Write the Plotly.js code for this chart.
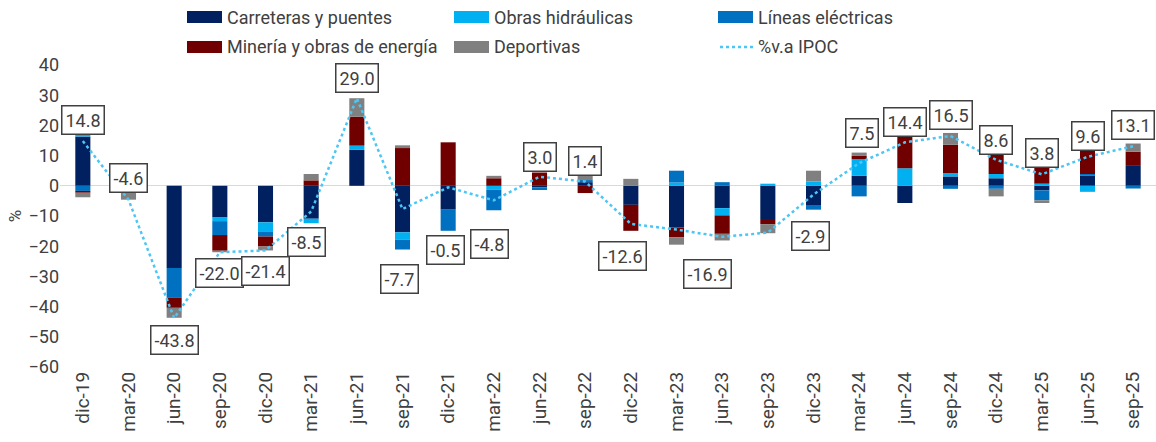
<!DOCTYPE html>
<html>
<head>
<meta charset="utf-8">
<script src="https://cdn.plot.ly/plotly-3.0.1.min.js"></script>
<style>
  html, body { margin: 0; padding: 0; background: #fff; }
  #plot { width: 1156px; height: 442px; }
</style>
</head>
<body>
<div id="plot"></div>
<script>
// trimestres
const quarters = ['dic-19', 'mar-20', 'jun-20', 'sep-20', 'dic-20', 'mar-21', 'jun-21', 'sep-21',
    'dic-21', 'mar-22', 'jun-22', 'sep-22', 'dic-22', 'mar-23', 'jun-23', 'sep-23',
    'dic-23', 'mar-24', 'jun-24', 'sep-24', 'dic-24', 'mar-25', 'jun-25', 'sep-25'];

// aportes por tipo de obra (pp)
const carreteras = [16.3, -1.4, -27.2, -10.5, -12.1, -10.9, 11.9, -15.4, -7.9, 0, -0.5, 1.2,
    -6.3, -13.8, -7.4, -11.0, -6.6, 3.3, -5.7, 3.1, 2.5, -1.5, 3.3, 6.6];
const obrasHidraulicas = [2.3, 0, 0, -1.2, -3.0, -1.5, 1.4, -2.4, 0, -1.3, 0, 0,
    0, 1.1, -2.4, 0.7, 1.4, 5.5, 5.8, 1.1, 1.4, 0.7, -2.0, 0];
const lineasElectricas = [-1.7, -0.7, -9.9, -4.6, -1.7, 0, 0, -3.3, -7.0, -6.8, -0.9, 0.7,
    0, 3.9, 1.2, 0, -1.3, -3.5, 0, -1.0, -1.0, -3.3, 0.6, -0.9];
const mineria = [-0.6, 0, -3.3, -5.2, -3.3, 1.8, 9.6, 12.5, 14.4, 2.5, 4.4, -2.4,
    -8.6, -3.2, -6.1, -1.7, 0, 1.1, 11.0, 9.4, 8.2, 8.5, 7.7, 4.7];
const deportivas = [-1.5, -2.5, -3.3, -0.5, -1.3, 2.1, 6.1, 0.9, 0, 0.8, 0, 1.9,
    2.3, -2.5, -2.2, -3.0, 3.6, 1.1, 3.3, 3.9, -2.5, -0.9, 0, 2.7];

// variación anual IPOC (%)
const ipoc = [14.8, -4.6, -43.8, -22.0, -21.4, -8.5, 29.0, -7.7, -0.5, -4.8, 3.0, 1.4,
    -12.6, -14.5, -16.9, -15.5, -2.9, 7.5, 14.4, 16.5, 8.6, 3.8, 9.6, 13.1];

const seriesNames = ['Carreteras y puentes', 'Obras hidráulicas', 'Líneas eléctricas',
    'Minería y obras de energía', 'Deportivas', '%v.a IPOC'];

// ============================================
// ESTILO
// ============================================

const colors = ['#002060', '#00B0F0', '#0070C0', '#700000', '#808080', '#4CC6F4'];
const textColor = '#404040';
const FONT = 'Roboto, "Open Sans", sans-serif';

// desplazamiento vertical de cada etiqueta (px); null = sin etiqueta
const labelShiftY = [21, 22, -22, -21, -21, -31, 20, -70, -63, -44, 20, 21,
    -32, null, -37, null, -41, 30, 20, 21, 20, 21, 21, 21];
const labelShiftX = [0, 0, 0, 0, 0, -5, 0, -3, -3, -4, 0, 0,
    -8, 0, -15, 0, -3, 3, 0, 0, 0, 0, 0, 0];

const M = { l: 60, r: 0, t: 65, b: 75 };
const W = 1156, H = 442;
const plotW = W - M.l - M.r;
const plotH = H - M.t - M.b;
const px2x = px => (px - M.l) / plotW;
const py2y = py => (H - M.b - py) / plotH;

// ============================================
// TRAZAS
// ============================================

const barSeries = [carreteras, obrasHidraulicas, lineasElectricas, mineria, deportivas];

const traces = barSeries.map((vals, i) => ({
    type: 'bar',
    x: quarters,
    y: vals,
    name: seriesNames[i],
    marker: { color: colors[i] },
    hoverinfo: 'x+y+name'
}));

traces.push({
    type: 'scatter',
    mode: 'lines',
    x: quarters,
    y: ipoc,
    name: seriesNames[5],
    line: { color: colors[5], width: 2.5, dash: 'dot' }
});

// ============================================
// ETIQUETAS
// ============================================

const annotations = [];

ipoc.forEach((v, i) => {
    if (labelShiftY[i] === null) return;
    annotations.push({
        x: quarters[i],
        y: v,
        xref: 'x',
        yref: 'y',
        text: v.toFixed(1),
        showarrow: false,
        yshift: labelShiftY[i],
        xshift: labelShiftX[i],
        font: { family: FONT, size: 18, color: textColor },
        bgcolor: '#ffffff',
        bordercolor: '#404040',
        borderwidth: 1.5,
        borderpad: 3
    });
});

// leyenda manual (rectángulos anchos como en el original)
const shapes = [];
const legendCols = [187, 454, 718];
const legendRows = [17, 47];

seriesNames.forEach((name, i) => {
    const cx = legendCols[i % 3];
    const cy = legendRows[Math.floor(i / 3)];
    if (i < 5) {
        shapes.push({
            type: 'rect', xref: 'paper', yref: 'paper',
            x0: px2x(cx), x1: px2x(cx + 35),
            y0: py2y(cy + 6), y1: py2y(cy - 6),
            fillcolor: colors[i], line: { width: 0 }
        });
    } else {
        shapes.push({
            type: 'line', xref: 'paper', yref: 'paper',
            x0: px2x(cx + 2), x1: px2x(cx + 35),
            y0: py2y(cy), y1: py2y(cy),
            line: { color: colors[i], width: 2.5, dash: 'dot' }
        });
    }
    annotations.push({
        xref: 'paper', yref: 'paper',
        x: px2x(cx + 38), y: py2y(cy),
        xanchor: 'left', yanchor: 'middle',
        text: name, showarrow: false,
        font: { family: FONT, size: 18, color: textColor }
    });
});

// ============================================
// LAYOUT
// ============================================

const layout = {
    width: W,
    height: H,
    margin: M,
    paper_bgcolor: '#ffffff',
    plot_bgcolor: '#ffffff',
    font: { family: FONT, size: 18, color: textColor },
    barmode: 'relative',
    bargap: 0.67,
    showlegend: false,
    xaxis: {
        type: 'category',
        tickangle: -90,
        showgrid: false,
        showline: false,
        ticks: '',
        tickfont: { family: FONT, size: 19, color: textColor },
        fixedrange: true
    },
    yaxis: {
        range: [-60, 40],
        dtick: 10,
        showgrid: false,
        zeroline: true,
        zerolinecolor: '#D9D9D9',
        zerolinewidth: 1,
        showline: false,
        ticks: '',
        tickfont: { family: FONT, size: 18, color: textColor },
        title: { text: '%', font: { family: FONT, size: 17, color: textColor }, standoff: 2 },
        fixedrange: true
    },
    shapes: shapes,
    annotations: annotations
};

Plotly.newPlot('plot', traces, layout, { displayModeBar: false, staticPlot: true });
</script>
</body>
</html>
